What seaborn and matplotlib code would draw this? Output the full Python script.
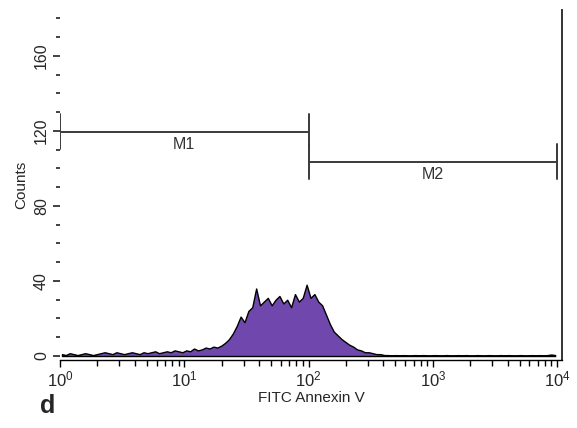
import numpy as np
import pandas as pd
import matplotlib
matplotlib.use("Agg")
import matplotlib.pyplot as plt
import seaborn as sns
from matplotlib.ticker import LogLocator, FixedLocator, MultipleLocator, NullFormatter

# ---- data ----
# histogram counts, 128 log-spaced channels from 10^0 to 10^4 (32 per decade)
counts_dec0 = [1, 0.5, 1.5, 1, 0.5, 1, 1.5, 1, 0.5, 1, 1.5, 2, 1.5, 1, 2, 1.5,
               1, 1.5, 2, 1.5, 1, 2, 1.5, 2, 2.5, 1.5, 2, 2.5, 2, 3, 2.5, 2]
counts_dec1 = [3, 2.5, 4, 3, 3.5, 4.5, 4, 5, 4.5, 5.5, 7, 9, 12, 16, 21, 18,
               24, 26, 36, 27, 29, 31, 27, 30, 32, 28, 30, 26, 33, 29, 31, 38]
counts_dec2 = [31, 33, 29, 27, 22, 17, 13, 11, 9, 7.5, 6, 5, 3.5, 3, 2, 2,
               1.5, 1, 1, 0.5, 0.5, 0.3, 0.5, 0.3, 0.5, 0.3, 0.3, 0.5, 0.3,
               0.5, 0.3, 0.3]
counts_dec3 = [0.5, 0.3, 0.3, 0.5, 0.3, 0.3, 0.5, 0.3, 0.5, 0.3, 0.3, 0.5,
               0.3, 0.3, 0.5, 0.3, 0.3, 0.5, 0.3, 0.5, 0.3, 0.3, 0.5, 0.3,
               0.3, 0.5, 0.3, 0.5, 0.3, 0.5, 0.8, 0.5]
counts = counts_dec0 + counts_dec1 + counts_dec2 + counts_dec3

gate_names = ["M1", "M2"]
gate_lo = [1, 100]
gate_hi = [100, 10000]
gate_level = [119.5, 103.5]

x_ticks = [1, 10, 100, 1000, 10000]
x_tick_labels = ["$10^0$", "$10^1$", "$10^2$", "$10^3$", "$10^4$"]
y_ticks = [0, 40, 80, 120, 160]

n = len(counts)
centers = 10 ** ((np.arange(n) + 0.5) * 4.0 / n)
df = pd.DataFrame({"fl": centers, "count": counts})

# ---- plot ----
sns.set_style("white")
plt.rcParams["font.family"] = ["Liberation Sans", "DejaVu Sans"]
plt.rcParams["mathtext.fontset"] = "custom"
plt.rcParams["mathtext.rm"] = "Liberation Sans"
plt.rcParams["mathtext.it"] = "Liberation Sans"

fig = plt.figure(figsize=(5.77, 4.28), dpi=100)
ax = fig.add_axes([0.104, 0.159, 0.870, 0.818])

sns.histplot(data=df, x="fl", weights="count", bins=n, binrange=(0, 4),
             log_scale=True, element="poly", fill=True,
             color="#6f47ad", alpha=1.0, edgecolor="black", linewidth=1.0,
             ax=ax)

# gates
line_col = "#3a3a3a"
for name, lo, hi, lev in zip(gate_names, gate_lo, gate_hi, gate_level):
    ax.plot([lo, hi], [lev, lev], color=line_col, lw=1.4, solid_capstyle="butt")
    for xe in (lo, hi):
        ax.plot([xe, xe], [lev - 9.3, lev + 9.3], color=line_col, lw=1.4)
    xm = np.sqrt(lo * hi)
    ax.text(xm, lev - 3, name, ha="center", va="top", fontsize=11.5,
            color="#333333")

ax.set_xlim(1, 10 ** 4.04)
ax.set_ylim(-2.1, 184.5)

ax.xaxis.set_major_locator(FixedLocator(x_ticks))
ax.set_xticklabels(x_tick_labels, fontsize=12)
ax.xaxis.set_minor_locator(LogLocator(base=10, subs=np.arange(2, 10)))
ax.xaxis.set_minor_formatter(NullFormatter())
ax.yaxis.set_major_locator(FixedLocator(y_ticks))
ax.yaxis.set_minor_locator(MultipleLocator(10))
ax.set_yticklabels([str(v) for v in y_ticks], rotation=90, va="center",
                   fontsize=11.5)

ax.tick_params(axis="x", which="major", direction="out", length=5, width=1,
               color="black", pad=2, bottom=True)
ax.tick_params(axis="x", which="minor", direction="out", length=4, width=1,
               color="black", bottom=True)
ax.tick_params(axis="y", which="major", direction="out", length=5, width=1.3,
               color="#333333", left=True, pad=3)
ax.tick_params(axis="y", which="minor", direction="out", length=3, width=1.3,
               color="#333333", left=True)

for s in ["top", "left"]:
    ax.spines[s].set_visible(False)
ax.spines["bottom"].set_color("black")
ax.spines["bottom"].set_linewidth(1.0)
ax.spines["right"].set_color("#333333")
ax.spines["right"].set_linewidth(1.4)

ax.set_xlabel("FITC Annexin V", fontsize=11, labelpad=1)
ax.set_ylabel("Counts", fontsize=11, labelpad=4)

fig.text(0.07, 0.035, "d", fontsize=18, fontweight="bold", ha="left",
         va="baseline")

fig.savefig("out.png", dpi=100)
